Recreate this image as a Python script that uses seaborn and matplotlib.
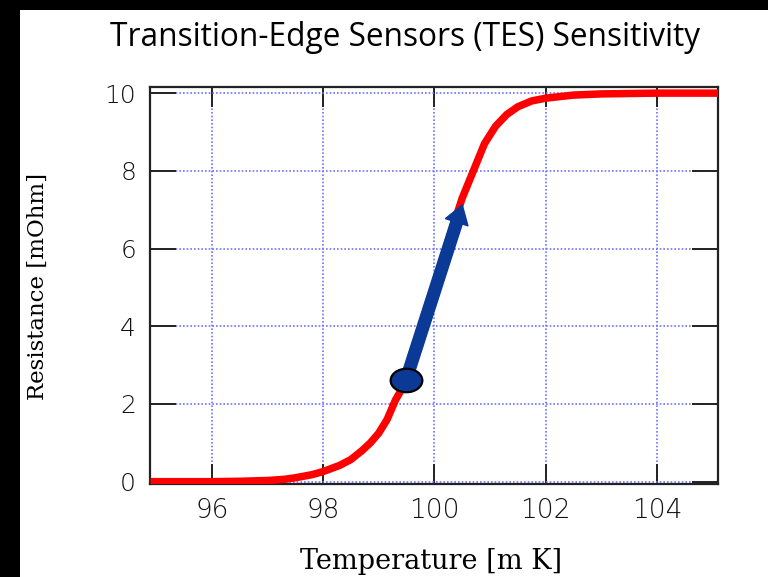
import numpy as np
import pandas as pd
import seaborn as sns
import matplotlib
matplotlib.use("Agg")
import matplotlib.pyplot as plt
from matplotlib.path import Path
from matplotlib.patches import Rectangle
import matplotlib.transforms as mtransforms

# Data
temperature = [94.9, 96.0, 96.5, 97.0, 97.3, 97.5, 97.8, 98.0, 98.3, 98.5, 98.7, 98.85,
               99.0, 99.15, 99.3, 99.5, 99.75, 100.0, 100.25, 100.5, 100.7, 100.9,
               101.1, 101.3, 101.5, 101.75, 102.0, 102.5, 103.0, 104.0, 105.1]
resistance = [0.0, 0.0, 0.01, 0.03, 0.06, 0.1, 0.18, 0.26, 0.42, 0.57, 0.8, 1.0,
              1.25, 1.6, 2.1, 2.6, 3.7, 5.0, 6.2, 7.3, 8.0, 8.7,
              9.15, 9.45, 9.65, 9.8, 9.87, 9.95, 9.98, 10.0, 10.0]
point_T = [99.49]
point_R = [2.62]
arrow_end_T = [100.5]
arrow_end_R = [7.12]
x_ticks = [96, 98, 100, 102, 104]
y_ticks = [0, 2, 4, 6, 8, 10]

title = "Transition-Edge Sensors (TES) Sensitivity"
xlabel = "Temperature [m K]"
ylabel = "Resistance [mOhm]"

sns.set_theme(style="white")
plt.rcParams['font.family'] = ['DejaVu Sans']

W, H = 768, 577
fig = plt.figure(figsize=(W / 100, H / 100), dpi=100)
fig.patch.set_facecolor("white")

# black frame strips (top and left)
fig.patches.append(Rectangle((0, 1 - 10 / H), 1, 10 / H, transform=fig.transFigure,
                             facecolor="black", edgecolor="none", zorder=0))
fig.patches.append(Rectangle((0, 0), 20 / W, 1, transform=fig.transFigure,
                             facecolor="black", edgecolor="none", zorder=0))

ax = fig.add_axes([150 / W, 1 - 484 / H, (717.7 - 150) / W, (484 - 87.3) / H])

df = pd.DataFrame({"T": temperature, "R": resistance})
sns.lineplot(data=df, x="T", y="R", ax=ax, color="#ff0000", linewidth=5.4,
             solid_capstyle="butt", zorder=3, sort=False)

ax.set_xlim(94.89, 105.09)
ax.set_ylim(-0.06, 10.15)
ax.set_xticks(x_ticks)
ax.set_yticks(y_ticks)

ax.grid(True, color="#7272ff", linestyle=(0, (1, 1.2)), linewidth=1.2, zorder=1)
ax.set_axisbelow(True)

for s in ax.spines.values():
    s.set_visible(True)
    s.set_color("#222222")
    s.set_linewidth(1.6)

ax.tick_params(axis="x", direction="in", length=14.5, width=1.4, color="#222222",
               top=True, bottom=True, pad=10, labelsize=19, labelcolor="#111111")
ax.tick_params(axis="y", direction="in", length=19, width=1.4, color="#222222",
               left=True, right=True, pad=10, labelsize=18, labelcolor="#111111")
for lab in ax.get_xticklabels() + ax.get_yticklabels():
    lab.set_fontweight("light")

ax.set_xlabel("")
ax.set_ylabel("")

# arrow
ax.annotate("", xy=(arrow_end_T[0], arrow_end_R[0]), xytext=(point_T[0], point_R[0]),
            arrowprops=dict(arrowstyle="simple,head_length=0.65,head_width=0.85,tail_width=0.42",
                            mutation_scale=20, color="#0a3a96", shrinkA=0, shrinkB=0),
            zorder=5)

# ellipse marker for the dot
circ = Path.unit_circle()
ell = mtransforms.Affine2D().scale(1.35, 1.0).transform_path(circ)
sns.scatterplot(x=point_T, y=point_R, ax=ax, marker=ell, s=520, color="#0a3a96",
                edgecolor="black", linewidth=1.6, zorder=6)

fig.text(405 / W, 1 - 46 / H, title, ha="center", va="baseline",
         fontsize=22.8, family=["Open Sans", "DejaVu Sans"], color="black")
fig.text(431 / W, 1 - 569 / H, xlabel, ha="center", va="baseline",
         fontsize=19.5, family=["DejaVu Serif"], color="black")
fig.text(38 / W, 1 - 286 / H, ylabel, ha="center", va="center", rotation=90,
         fontsize=16.5, family=["DejaVu Serif"], color="black")

fig.savefig("out.png", dpi=100, facecolor=fig.get_facecolor())
